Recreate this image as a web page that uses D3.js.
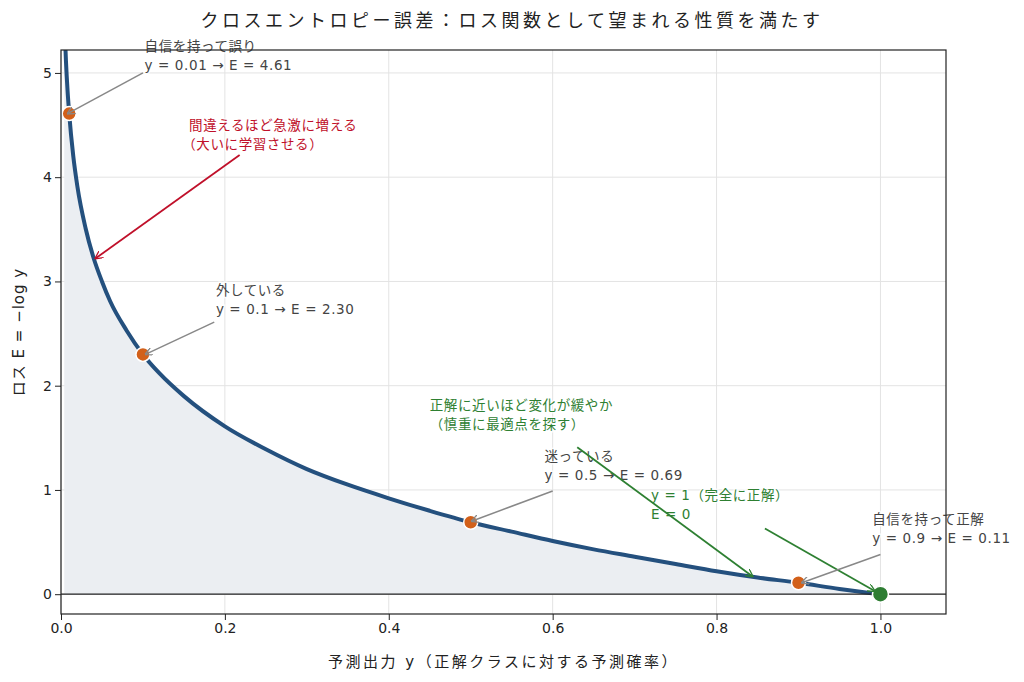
<!DOCTYPE html>
<html><head><meta charset="utf-8">
<script src="https://cdn.jsdelivr.net/npm/d3@7"></script>
<style>body{margin:0;background:#fff;font-family:"DejaVu Sans","Noto Sans CJK JP",sans-serif;}</style>
</head><body><svg id="c" width="1024" height="682"></svg>
<script>
const curveX = [0.004,0.006,0.008,0.01,0.015,0.02,0.03,0.04,0.05,0.06,0.08,0.1,0.12,0.15,0.2,0.25,0.3,0.35,0.4,0.45,0.5,0.55,0.6,0.65,0.7,0.75,0.8,0.85,0.9,0.95,1.0];
const curveE = [5.52,5.12,4.83,4.61,4.20,3.91,3.51,3.22,3.00,2.81,2.53,2.30,2.12,1.90,1.61,1.39,1.20,1.05,0.92,0.80,0.69,0.60,0.51,0.43,0.36,0.29,0.22,0.16,0.11,0.05,0.0];
const pointX = [0.01,0.1,0.5,0.9];
const pointE = [4.61,2.30,0.69,0.11];
const xTicks = [0,0.2,0.4,0.6,0.8,1.0];
const yTicks = [0,1,2,3,4,5];
const annText = [
 ["自信を持って誤り","y = 0.01 → E = 4.61"],
 ["間違えるほど急激に増える","（大いに学習させる）"],
 ["外している","y = 0.1 → E = 2.30"],
 ["正解に近いほど変化が緩やか","（慎重に最適点を探す）"],
 ["迷っている","y = 0.5 → E = 0.69"],
 ["y = 1（完全に正解）","E = 0"],
 ["自信を持って正解","y = 0.9 → E = 0.11"]
];
const annPos = [[0.102,5.21],[0.135,4.45],[0.189,2.87],[0.45,1.77],[0.59,1.28],[0.72,0.90],[0.99,0.67]];
const annFrom = [[0.10,5.0],[0.218,4.213],[0.187,2.61],[0.63,1.41],[0.60,0.99],[0.859,0.63],[1.0,0.38]];
const annTo = [[0.008,4.61],[0.042,3.22],[0.103,2.30],[0.844,0.17],[0.501,0.70],[0.993,0.03],[0.904,0.11]];
const annColor = ["#444","#c0102a","#444","#2e8032","#444","#2e8032","#444"];
const annAnchor = ["start","middle","start","start","start","start","start"];
const annAnchorX = [null,[0.259,0.234],null,null,null,null,null];

const svg = d3.select("#c");
const m = {l:61,r:946,t:50,b:614};
const x = d3.scaleLinear().domain([0,1.08]).range([m.l,m.r]);
const y = d3.scaleLinear().domain([-0.19,5.22]).range([m.b,m.t]);

svg.append("text").attr("x",512).attr("y",27).attr("text-anchor","middle").attr("font-size",18).attr("letter-spacing",3.5).attr("fill","#222").text("クロスエントロピー誤差：ロス関数として望まれる性質を満たす");

const g = svg.append("g");
g.append("defs").append("clipPath").attr("id","cl").append("rect").attr("x",m.l).attr("y",m.t).attr("width",m.r-m.l).attr("height",m.b-m.t);
xTicks.forEach(t=>g.append("line").attr("x1",x(t)).attr("x2",x(t)).attr("y1",m.t).attr("y2",m.b).attr("stroke","#e3e3e3"));
yTicks.forEach(t=>g.append("line").attr("y1",y(t)).attr("y2",y(t)).attr("x1",m.l).attr("x2",m.r).attr("stroke","#e3e3e3"));

const data = curveX.map((d,i)=>[d,curveE[i]]);
const cg = g.append("g").attr("clip-path","url(#cl)");
cg.append("path").datum(data).attr("d",d3.area().x(d=>x(d[0])).y0(y(0)).y1(d=>y(d[1])).curve(d3.curveMonotoneX)).attr("fill","#ebeef2");
g.append("line").attr("x1",m.l).attr("x2",m.r).attr("y1",y(0)).attr("y2",y(0)).attr("stroke","#222").attr("stroke-width",1.3);
cg.append("path").datum(data).attr("d",d3.line().x(d=>x(d[0])).y(d=>y(d[1])).curve(d3.curveMonotoneX)).attr("fill","none").attr("stroke","#24507e").attr("stroke-width",4);

const defs = svg.append("defs");
const arrowCols = ["#888","#c0102a","#2e8032"];
arrowCols.forEach((c,i)=>{
 defs.append("marker").attr("id","ar"+i).attr("viewBox","0 0 10 10").attr("refX",9).attr("refY",5).attr("markerWidth",8).attr("markerHeight",8).attr("orient","auto").attr("markerUnits","userSpaceOnUse")
  .append("path").attr("d","M0,0 L10,5 L0,10").attr("fill","none").attr("stroke",c).attr("stroke-width",1.6);
});
const mk = c=>c=="#444"?0:c=="#c0102a"?1:2;

pointX.forEach((p,i)=>g.append("circle").attr("cx",x(p)).attr("cy",y(pointE[i])).attr("r",7).attr("fill","#d2601a").attr("stroke","#fff").attr("stroke-width",1.5));
g.append("circle").attr("cx",x(1)).attr("cy",y(0)).attr("r",8).attr("fill","#2e7d32").attr("stroke","#fff").attr("stroke-width",1.5);

annText.forEach((lines,i)=>{
 const c = annColor[i];
 lines.forEach((t,j)=>{
  const px = annAnchorX[i]? x(annAnchorX[i][j]) : x(annPos[i][0]);
  g.append("text").attr("x",px).attr("y",y(annPos[i][1])+j*19).attr("text-anchor",annAnchor[i]).attr("font-size",13.5).attr("letter-spacing",0.6).attr("fill",c)
   .attr("stroke","#fff").attr("stroke-width",3).attr("paint-order","stroke").attr("stroke-opacity",0.8).text(t);
 });
});
annText.forEach((lines,i)=>{
 const k=mk(annColor[i]);
 g.append("line").attr("x1",x(annFrom[i][0])).attr("y1",y(annFrom[i][1])).attr("x2",x(annTo[i][0])).attr("y2",y(annTo[i][1]))
  .attr("stroke",arrowCols[k]).attr("stroke-width",k==0?1.5:1.8).attr("marker-end","url(#ar"+k+")");
});

g.append("rect").attr("x",m.l).attr("y",m.t).attr("width",m.r-m.l).attr("height",m.b-m.t).attr("fill","none").attr("stroke","#222").attr("stroke-width",1.2);
const xa = g.append("g").attr("transform",`translate(0,${m.b})`).call(d3.axisBottom(x).tickValues(xTicks).tickFormat(d3.format(".1f")).tickSizeOuter(0));
const ya = g.append("g").attr("transform",`translate(${m.l},0)`).call(d3.axisLeft(y).tickValues(yTicks).tickFormat(d3.format("d")).tickSizeOuter(0));
[xa,ya].forEach(a=>{a.select(".domain").remove();a.selectAll("text").attr("font-size",14).attr("fill","#222").attr("font-family","'DejaVu Sans'");a.selectAll("line").attr("stroke","#222");});
svg.append("text").attr("x",(m.l+m.r)/2).attr("y",667).attr("text-anchor","middle").attr("font-size",15).attr("letter-spacing",2.5).attr("fill","#222").text("予測出力 y（正解クラスに対する予測確率）");
svg.append("text").attr("transform",`translate(24,${(m.t+m.b)/2}) rotate(-90)`).attr("text-anchor","middle").attr("font-size",15).attr("letter-spacing",1).attr("fill","#222").text("ロス E = −log y");
</script></body></html>
